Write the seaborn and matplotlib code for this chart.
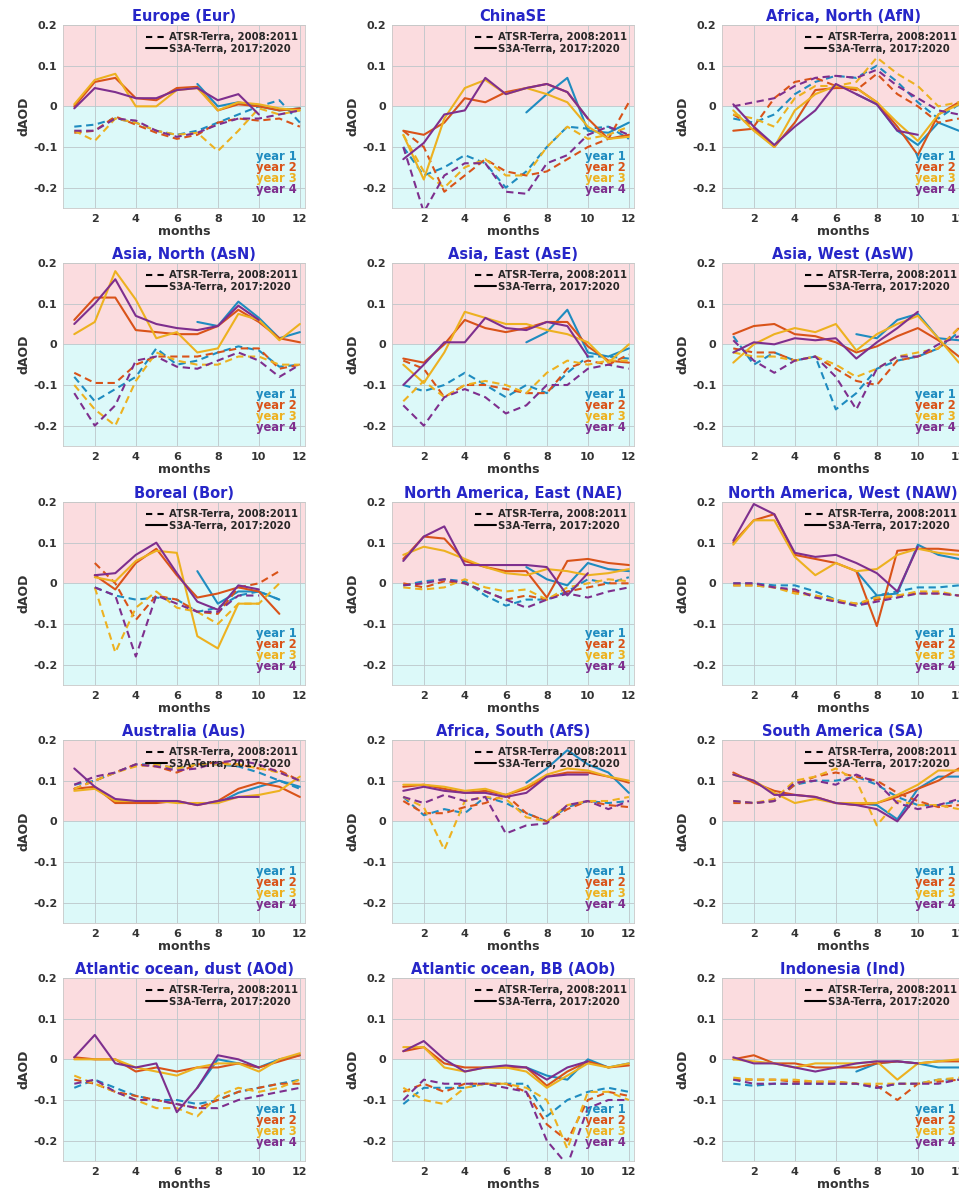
import matplotlib.pyplot as plt
from matplotlib.lines import Line2D
import numpy as np
import pandas as pd
import seaborn as sns

nan = np.nan
MONTHS = list(range(1, 13))
YEARS = ["year 1", "year 2", "year 3", "year 4"]
YEAR_COLORS = ["#1f8cc0", "#d95319", "#edb120", "#7e2f8e"]

TITLES = [
    "Europe (Eur)", "ChinaSE", "Africa, North (AfN)",
    "Asia, North (AsN)", "Asia, East (AsE)", "Asia, West (AsW)",
    "Boreal (Bor)", "North America, East (NAE)", "North America, West (NAW)",
    "Australia (Aus)", "Africa, South (AfS)", "South America (SA)",
    "Atlantic ocean, dust (AOd)", "Atlantic ocean, BB (AOb)", "Indonesia (Ind)",
]

# --- S3A-Terra 2017:2020 (solid) and ATSR-Terra 2008:2011 (dashed), one row per year ---
EUR_S3A = [
    [nan, nan, nan, nan, nan, nan, 0.055, 0.0, 0.01, 0.0, -0.01, -0.005],
    [0.0, 0.06, 0.07, 0.02, 0.015, 0.045, 0.048, -0.01, 0.005, 0.0, -0.01, -0.005],
    [0.005, 0.065, 0.08, 0.0, 0.0, 0.04, 0.045, -0.01, 0.01, 0.005, -0.005, -0.01],
    [-0.005, 0.045, 0.035, 0.02, 0.02, 0.04, 0.045, 0.015, 0.03, -0.02, nan, nan],
]
EUR_ATSR = [
    [-0.05, -0.045, -0.03, -0.04, -0.06, -0.07, -0.06, -0.04, -0.02, 0.0, 0.015, -0.04],
    [-0.065, -0.06, -0.025, -0.045, -0.065, -0.08, -0.07, -0.04, -0.03, -0.035, -0.03, -0.05],
    [-0.06, -0.085, -0.03, -0.04, -0.06, -0.07, -0.065, -0.11, -0.06, -0.005, -0.02, -0.01],
    [-0.06, -0.06, -0.03, -0.035, -0.06, -0.075, -0.065, -0.045, -0.03, -0.03, -0.02, -0.01],
]
CSE_S3A = [
    [nan, nan, nan, nan, nan, nan, -0.015, 0.03, 0.07, -0.06, -0.065, -0.04],
    [-0.06, -0.07, -0.04, 0.02, 0.01, 0.035, 0.045, 0.055, 0.035, -0.03, -0.08, -0.07],
    [-0.07, -0.18, -0.03, 0.045, 0.065, 0.03, 0.045, 0.03, 0.01, -0.05, -0.08, -0.075],
    [-0.13, -0.09, -0.02, -0.01, 0.07, 0.03, 0.045, 0.055, 0.035, -0.03, nan, nan],
]
CSE_ATSR = [
    [-0.1, -0.17, -0.15, -0.12, -0.14, -0.2, -0.16, -0.1, -0.05, -0.055, -0.05, -0.08],
    [-0.06, -0.1, -0.21, -0.17, -0.13, -0.16, -0.17, -0.16, -0.13, -0.1, -0.08, 0.01],
    [-0.07, -0.16, -0.2, -0.15, -0.13, -0.17, -0.17, -0.1, -0.05, -0.08, -0.07, -0.05],
    [-0.1, -0.26, -0.17, -0.14, -0.14, -0.21, -0.215, -0.14, -0.12, -0.07, -0.05, -0.07],
]
AFN_S3A = [
    [nan, nan, nan, nan, nan, nan, 0.03, 0.005, -0.06, -0.095, -0.04, -0.06],
    [-0.06, -0.055, -0.1, -0.04, 0.04, 0.045, 0.045, 0.01, -0.05, -0.12, -0.02, 0.01],
    [-0.01, -0.06, -0.1, -0.01, 0.03, 0.05, 0.045, 0.01, -0.04, -0.085, -0.02, 0.005],
    [0.005, -0.05, -0.095, -0.05, -0.01, 0.055, 0.03, 0.005, -0.06, -0.07, nan, nan],
]
AFN_ATSR = [
    [-0.03, -0.04, -0.02, 0.03, 0.06, 0.075, 0.07, 0.1, 0.06, 0.01, -0.03, 0.005],
    [-0.02, -0.05, 0.02, 0.06, 0.07, 0.05, 0.04, 0.08, 0.03, 0.0, -0.04, -0.03],
    [-0.02, -0.03, -0.05, 0.02, 0.05, 0.05, 0.06, 0.12, 0.08, 0.05, 0.0, 0.01],
    [0.0, 0.01, 0.02, 0.05, 0.07, 0.075, 0.07, 0.09, 0.05, 0.02, -0.01, -0.02],
]
ASN_S3A = [
    [nan, nan, nan, nan, nan, nan, 0.055, 0.045, 0.105, 0.065, 0.015, 0.03],
    [0.06, 0.115, 0.115, 0.035, 0.03, 0.025, 0.025, 0.045, 0.085, 0.055, 0.015, 0.005],
    [0.025, 0.055, 0.18, 0.11, 0.015, 0.03, -0.02, -0.01, 0.075, 0.06, 0.01, 0.05],
    [0.05, 0.1, 0.16, 0.07, 0.05, 0.04, 0.035, 0.045, 0.095, 0.06, nan, nan],
]
ASN_ATSR = [
    [-0.08, -0.14, -0.11, -0.08, -0.01, -0.05, -0.04, -0.02, -0.005, -0.015, -0.055, -0.05],
    [-0.07, -0.095, -0.095, -0.05, -0.03, -0.03, -0.03, -0.02, -0.01, -0.01, -0.06, -0.05],
    [-0.1, -0.16, -0.2, -0.09, -0.02, -0.04, -0.05, -0.05, -0.03, -0.03, -0.05, -0.05],
    [-0.12, -0.2, -0.15, -0.04, -0.03, -0.055, -0.06, -0.04, -0.02, -0.04, -0.08, -0.05],
]
ASE_S3A = [
    [nan, nan, nan, nan, nan, nan, 0.005, 0.03, 0.085, -0.02, -0.03, -0.01],
    [-0.035, -0.045, 0.0, 0.06, 0.04, 0.03, 0.04, 0.055, 0.055, -0.005, -0.04, -0.045],
    [-0.05, -0.095, -0.02, 0.08, 0.065, 0.05, 0.05, 0.035, 0.025, 0.005, -0.045, 0.0],
    [-0.1, -0.05, 0.005, 0.005, 0.065, 0.04, 0.035, 0.055, 0.045, -0.03, nan, nan],
]
ASE_ATSR = [
    [-0.1, -0.115, -0.1, -0.07, -0.1, -0.13, -0.1, -0.12, -0.07, -0.03, -0.03, -0.035],
    [-0.04, -0.06, -0.13, -0.1, -0.1, -0.11, -0.12, -0.12, -0.06, -0.04, -0.05, -0.025],
    [-0.14, -0.09, -0.13, -0.1, -0.09, -0.1, -0.12, -0.07, -0.04, -0.05, -0.04, -0.04],
    [-0.15, -0.2, -0.13, -0.11, -0.13, -0.17, -0.15, -0.1, -0.1, -0.06, -0.05, -0.06],
]
ASW_S3A = [
    [nan, nan, nan, nan, nan, nan, 0.025, 0.015, 0.06, 0.075, 0.015, 0.01],
    [0.025, 0.045, 0.05, 0.025, 0.02, 0.005, -0.02, -0.005, 0.02, 0.04, 0.01, -0.03],
    [-0.045, 0.0, 0.025, 0.04, 0.03, 0.05, -0.015, 0.025, 0.05, 0.07, 0.015, -0.045],
    [-0.02, 0.005, 0.0, 0.015, 0.01, 0.015, -0.035, 0.005, 0.04, 0.08, nan, nan],
]
ASW_ATSR = [
    [0.02, -0.05, -0.02, -0.04, -0.03, -0.16, -0.12, -0.06, -0.04, -0.03, -0.01, 0.03],
    [-0.01, -0.02, -0.02, -0.04, -0.03, -0.06, -0.09, -0.1, -0.04, -0.03, -0.01, 0.04],
    [-0.02, -0.03, -0.03, -0.04, -0.03, -0.05, -0.08, -0.06, -0.03, -0.02, -0.01, 0.04],
    [0.01, -0.04, -0.07, -0.04, -0.03, -0.08, -0.16, -0.06, -0.03, -0.03, 0.0, 0.02],
]
BOR_S3A = [
    [nan, nan, nan, nan, nan, nan, 0.03, -0.05, -0.02, -0.02, -0.04, nan],
    [nan, 0.02, -0.015, 0.05, 0.085, 0.02, -0.035, -0.025, -0.01, -0.02, -0.075, nan],
    [nan, 0.015, 0.005, 0.055, 0.08, 0.075, -0.13, -0.16, -0.05, -0.05, nan, nan],
    [nan, 0.02, 0.025, 0.07, 0.1, 0.025, -0.045, -0.065, -0.005, -0.015, nan, nan],
]
BOR_ATSR = [
    [nan, -0.01, -0.03, -0.04, -0.035, -0.04, -0.07, -0.06, -0.03, -0.02, -0.04, nan],
    [nan, 0.05, 0.0, -0.09, -0.03, -0.04, -0.07, -0.075, -0.01, 0.0, 0.03, nan],
    [nan, -0.01, -0.17, -0.06, -0.02, -0.06, -0.07, -0.1, -0.05, -0.05, 0.0, nan],
    [nan, -0.01, -0.03, -0.18, -0.03, -0.05, -0.07, -0.07, -0.03, -0.03, nan, nan],
]
NAE_S3A = [
    [nan, nan, nan, nan, nan, nan, 0.04, 0.01, -0.005, 0.05, 0.035, 0.03],
    [0.06, 0.115, 0.11, 0.055, 0.04, 0.03, 0.03, -0.035, 0.055, 0.06, 0.05, 0.045],
    [0.07, 0.09, 0.08, 0.06, 0.04, 0.025, 0.02, 0.035, 0.03, 0.02, 0.025, 0.035],
    [0.055, 0.115, 0.14, 0.045, 0.045, 0.045, 0.045, 0.04, -0.03, 0.025, nan, nan],
]
NAE_ATSR = [
    [-0.005, 0.005, 0.01, 0.005, -0.03, -0.055, -0.04, -0.04, -0.02, 0.01, 0.0, 0.015],
    [0.0, -0.01, 0.005, 0.0, -0.02, -0.04, -0.03, -0.04, -0.02, -0.01, 0.0, 0.0],
    [-0.01, -0.015, -0.01, 0.01, -0.01, -0.02, -0.015, -0.04, -0.01, 0.0, 0.01, 0.005],
    [-0.005, 0.0, 0.01, 0.0, -0.02, -0.04, -0.06, -0.04, -0.025, -0.035, -0.02, -0.01],
]
NAW_S3A = [
    [nan, nan, nan, nan, nan, nan, 0.03, -0.03, -0.025, 0.095, 0.07, 0.06],
    [0.1, 0.155, 0.17, 0.07, 0.06, 0.05, 0.03, -0.105, 0.08, 0.085, 0.085, 0.08],
    [0.095, 0.155, 0.155, 0.065, 0.02, 0.05, 0.03, 0.035, 0.07, 0.085, 0.075, 0.07],
    [0.105, 0.195, 0.17, 0.075, 0.065, 0.07, 0.05, 0.025, -0.02, 0.09, nan, nan],
]
NAW_ATSR = [
    [0.0, 0.0, -0.005, -0.005, -0.02, -0.04, -0.055, -0.03, -0.02, -0.01, -0.01, -0.005],
    [-0.005, -0.005, -0.01, -0.02, -0.03, -0.045, -0.05, -0.04, -0.03, -0.025, -0.025, -0.03],
    [-0.005, -0.005, -0.01, -0.025, -0.03, -0.04, -0.05, -0.035, -0.03, -0.02, -0.02, -0.03],
    [0.0, 0.0, -0.01, -0.015, -0.035, -0.045, -0.055, -0.045, -0.035, -0.025, -0.025, -0.03],
]
AUS_S3A = [
    [nan, nan, nan, nan, nan, nan, 0.045, 0.045, 0.07, 0.085, 0.1, 0.085],
    [0.08, 0.085, 0.045, 0.045, 0.045, 0.05, 0.04, 0.05, 0.08, 0.095, 0.085, 0.06],
    [0.075, 0.08, 0.05, 0.05, 0.05, 0.045, 0.045, 0.045, 0.06, 0.065, 0.075, 0.11],
    [0.13, 0.085, 0.055, 0.05, 0.05, 0.05, 0.04, 0.05, 0.06, 0.06, nan, nan],
]
AUS_ATSR = [
    [0.09, 0.1, 0.12, 0.14, 0.14, 0.13, 0.14, 0.14, 0.135, 0.12, 0.1, 0.08],
    [0.08, 0.1, 0.12, 0.14, 0.135, 0.12, 0.14, 0.145, 0.14, 0.13, 0.125, 0.1],
    [0.08, 0.1, 0.12, 0.135, 0.14, 0.13, 0.14, 0.14, 0.14, 0.13, 0.12, 0.1],
    [0.09, 0.11, 0.12, 0.14, 0.135, 0.125, 0.13, 0.145, 0.15, 0.14, 0.12, 0.1],
]
AFS_S3A = [
    [nan, nan, nan, nan, nan, nan, 0.095, 0.13, 0.175, 0.14, 0.12, 0.07],
    [0.085, 0.09, 0.08, 0.07, 0.075, 0.065, 0.08, 0.11, 0.12, 0.12, 0.11, 0.095],
    [0.09, 0.09, 0.085, 0.075, 0.08, 0.065, 0.085, 0.115, 0.13, 0.125, 0.11, 0.1],
    [0.075, 0.085, 0.075, 0.07, 0.07, 0.06, 0.07, 0.11, 0.115, 0.115, nan, nan],
]
AFS_ATSR = [
    [0.06, 0.015, 0.03, 0.02, 0.06, 0.045, 0.02, 0.0, 0.035, 0.05, 0.045, 0.05],
    [0.05, 0.02, 0.02, 0.035, 0.045, 0.065, 0.02, 0.0, 0.03, 0.05, 0.04, 0.035],
    [0.06, 0.035, -0.07, 0.05, 0.06, 0.055, 0.01, 0.0, 0.04, 0.05, 0.05, 0.06],
    [0.06, 0.045, 0.065, 0.05, 0.06, -0.03, -0.01, -0.005, 0.04, 0.05, 0.03, 0.05],
]
SA_S3A = [
    [nan, nan, nan, nan, nan, nan, 0.045, 0.04, 0.005, 0.08, 0.11, 0.11],
    [0.12, 0.095, 0.075, 0.065, 0.06, 0.045, 0.04, 0.045, 0.06, 0.08, 0.1, 0.13],
    [0.115, 0.1, 0.07, 0.045, 0.055, 0.045, 0.045, 0.045, 0.065, 0.09, 0.125, 0.125],
    [0.115, 0.1, 0.065, 0.065, 0.06, 0.045, 0.04, 0.03, 0.0, 0.065, nan, nan],
]
SA_ATSR = [
    [0.05, 0.045, 0.05, 0.09, 0.1, 0.1, 0.11, 0.09, 0.06, 0.04, 0.04, 0.05],
    [0.045, 0.045, 0.05, 0.09, 0.11, 0.12, 0.11, 0.1, 0.07, 0.05, 0.035, 0.04],
    [0.05, 0.045, 0.055, 0.1, 0.11, 0.13, 0.1, -0.01, 0.05, 0.04, 0.04, 0.03],
    [0.05, 0.045, 0.05, 0.095, 0.1, 0.09, 0.115, 0.095, 0.045, 0.03, 0.04, 0.055],
]
AOD_S3A = [
    [nan, nan, nan, nan, nan, nan, -0.07, 0.0, -0.01, -0.02, 0.0, 0.01],
    [0.005, 0.0, 0.0, -0.03, -0.02, -0.03, -0.02, -0.02, -0.01, -0.02, -0.005, 0.01],
    [0.0, 0.0, 0.0, -0.02, -0.03, -0.04, -0.02, -0.01, -0.01, -0.03, 0.0, 0.015],
    [0.005, 0.06, -0.01, -0.02, -0.01, -0.13, -0.07, 0.01, 0.0, -0.02, nan, nan],
]
AOD_ATSR = [
    [-0.07, -0.05, -0.07, -0.09, -0.1, -0.1, -0.11, -0.1, -0.08, -0.07, -0.06, -0.05],
    [-0.05, -0.06, -0.08, -0.09, -0.1, -0.11, -0.12, -0.1, -0.08, -0.07, -0.06, -0.06],
    [-0.04, -0.06, -0.08, -0.1, -0.12, -0.12, -0.14, -0.09, -0.07, -0.08, -0.07, -0.05],
    [-0.06, -0.05, -0.08, -0.1, -0.1, -0.11, -0.12, -0.12, -0.1, -0.09, -0.08, -0.07],
]
AOB_S3A = [
    [nan, nan, nan, nan, nan, nan, -0.02, -0.04, -0.05, 0.0, -0.02, -0.01],
    [0.02, 0.03, -0.01, -0.02, -0.02, -0.02, -0.02, -0.065, -0.03, -0.005, -0.02, -0.015],
    [0.03, 0.03, -0.02, -0.03, -0.02, -0.02, -0.03, -0.07, -0.04, -0.01, -0.02, -0.01],
    [0.02, 0.045, 0.0, -0.03, -0.02, -0.015, -0.02, -0.05, -0.02, -0.005, nan, nan],
]
AOB_ATSR = [
    [-0.11, -0.07, -0.07, -0.07, -0.06, -0.06, -0.06, -0.14, -0.1, -0.08, -0.07, -0.08],
    [-0.08, -0.06, -0.08, -0.06, -0.06, -0.06, -0.08, -0.16, -0.2, -0.1, -0.08, -0.09],
    [-0.07, -0.1, -0.11, -0.07, -0.06, -0.06, -0.07, -0.1, -0.22, -0.08, -0.08, -0.1],
    [-0.1, -0.05, -0.06, -0.06, -0.06, -0.07, -0.08, -0.2, -0.26, -0.12, -0.1, -0.1],
]
IND_S3A = [
    [nan, nan, nan, nan, nan, nan, -0.03, -0.01, -0.005, -0.01, -0.02, -0.02],
    [0.0, 0.01, -0.01, -0.01, -0.02, -0.02, -0.02, -0.01, -0.005, -0.01, -0.005, -0.005],
    [0.0, -0.005, -0.01, -0.02, -0.01, -0.01, -0.01, -0.005, -0.05, -0.01, -0.005, 0.0],
    [0.005, -0.01, -0.01, -0.02, -0.03, -0.02, -0.01, -0.005, -0.005, -0.01, nan, nan],
]
IND_ATSR = [
    [-0.06, -0.065, -0.06, -0.06, -0.06, -0.06, -0.06, -0.07, -0.06, -0.06, -0.05, -0.05],
    [-0.05, -0.05, -0.05, -0.055, -0.055, -0.055, -0.06, -0.065, -0.1, -0.06, -0.055, -0.05],
    [-0.045, -0.05, -0.05, -0.05, -0.055, -0.055, -0.06, -0.06, -0.06, -0.06, -0.05, -0.045],
    [-0.05, -0.06, -0.06, -0.06, -0.06, -0.06, -0.06, -0.07, -0.06, -0.06, -0.06, -0.05],
]

PANELS = [
    (EUR_S3A, EUR_ATSR), (CSE_S3A, CSE_ATSR), (AFN_S3A, AFN_ATSR),
    (ASN_S3A, ASN_ATSR), (ASE_S3A, ASE_ATSR), (ASW_S3A, ASW_ATSR),
    (BOR_S3A, BOR_ATSR), (NAE_S3A, NAE_ATSR), (NAW_S3A, NAW_ATSR),
    (AUS_S3A, AUS_ATSR), (AFS_S3A, AFS_ATSR), (SA_S3A, SA_ATSR),
    (AOD_S3A, AOD_ATSR), (AOB_S3A, AOB_ATSR), (IND_S3A, IND_ATSR),
]


def to_long(s3a, atsr):
    rows = []
    for sensor, block in (("S3A", s3a), ("ATSR", atsr)):
        for year, vals in zip(YEARS, block):
            for m, v in zip(MONTHS, vals):
                rows.append({"month": m, "dAOD": v, "year": year, "sensor": sensor})
    return pd.DataFrame(rows).dropna()


sns.set_style("white")
plt.rcParams["font.family"] = ["DejaVu Sans"]
plt.rcParams["font.weight"] = "bold"
plt.rcParams["axes.unicode_minus"] = False

W, H = 959, 1194
fig = plt.figure(figsize=(W / 100, H / 100), dpi=100)

# the reference is cropped on the right: the third column runs past the edge
col_left = [63, 392, 722]
row_top = [25, 263, 502, 740, 978]
ax_w, ax_h = 242, 183

for k, (title, (s3a, atsr)) in enumerate(zip(TITLES, PANELS)):
    r, c = divmod(k, 3)
    ax = fig.add_axes([col_left[c] / W, 1 - (row_top[r] + ax_h) / H, ax_w / W, ax_h / H])

    ax.axhspan(0, 0.2, color="#fbdcdf", zorder=0, lw=0)
    ax.axhspan(-0.25, 0, color="#dcf9f9", zorder=0, lw=0)

    df = to_long(s3a, atsr)
    sns.lineplot(
        data=df, x="month", y="dAOD",
        hue="year", hue_order=YEARS, palette=YEAR_COLORS,
        style="sensor", style_order=["ATSR", "S3A"],
        dashes={"ATSR": (3.5, 2.2), "S3A": ""},
        estimator=None, legend=False, lw=1.5, ax=ax,
    )

    ax.set_xlim(0.45, 12.25)
    ax.set_ylim(-0.25, 0.2)
    ax.set_xticks([2, 4, 6, 8, 10, 12])
    ax.set_yticks([-0.2, -0.1, 0, 0.1, 0.2])
    ax.set_yticklabels(["-0.2", "-0.1", "0", "0.1", "0.2"])
    ax.tick_params(labelsize=8, length=0, pad=4)
    for lab in ax.get_xticklabels() + ax.get_yticklabels():
        lab.set_fontweight("bold")
        lab.set_color("#333333")
    ax.set_axisbelow("line")
    ax.grid(True, color="#bcc6ca", lw=0.6)
    for sp in ax.spines.values():
        sp.set_color("#c8c8c8")
        sp.set_linewidth(0.6)

    ax.set_xlabel("months", fontsize=9, fontweight="bold", labelpad=1, color="#333333")
    ax.set_ylabel("dAOD", fontsize=9, fontweight="bold", labelpad=2, color="#333333")
    ax.set_title(title, fontsize=10.5, fontweight="bold", color="#2626c8", pad=3)

    handles = [
        Line2D([], [], color="black", lw=1.5, dashes=(3, 2.5)),
        Line2D([], [], color="black", lw=1.5),
    ]
    ax.legend(
        handles, ["ATSR-Terra, 2008:2011", "S3A-Terra, 2017:2020"],
        loc="upper right", frameon=False, handlelength=2.0, handletextpad=0.2,
        labelspacing=0.15, borderaxespad=0.3,
        prop={"size": 7.3, "weight": "bold"},
    )

    for i, (yr, col) in enumerate(zip(YEARS, YEAR_COLORS)):
        ax.text(0.965, 0.28 - i * 0.06, yr, transform=ax.transAxes,
                ha="right", va="center", fontsize=8.3, fontweight="bold", color=col)

fig.savefig("out.png", dpi=100)
